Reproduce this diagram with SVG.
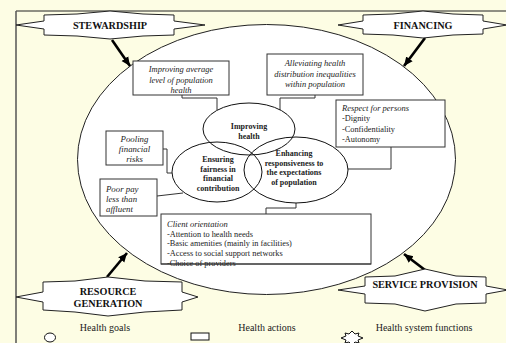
<svg xmlns="http://www.w3.org/2000/svg" width="506" height="343" viewBox="0 0 506 343">
<style>
.func{fill:#fff;stroke:#222;stroke-width:1}
.fl{font-family:"Liberation Serif",serif;font-weight:bold;font-size:10.2px;fill:#111;text-anchor:middle}
.box{fill:#fff;stroke:#333;stroke-width:1}
.it{font-family:"Liberation Serif",serif;font-style:italic;font-size:8.5px;fill:#222}
.tx{font-family:"Liberation Serif",serif;font-size:8.3px;fill:#222}
.goal{fill:none;stroke:#111;stroke-width:1}
.gl{font-family:"Liberation Serif",serif;font-weight:bold;font-size:8px;fill:#222;text-anchor:middle}
.con{fill:none;stroke:#333;stroke-width:1}
.arr{stroke:#000;stroke-width:2.6;marker-end:url(#ah)}
.lg{font-family:"Liberation Serif",serif;font-size:10px;fill:#222;text-anchor:middle}
.c{text-anchor:middle}
</style>
<defs>
<marker id="ah" markerUnits="userSpaceOnUse" markerWidth="10" markerHeight="10" viewBox="0 0 10 10" refX="9" refY="5" orient="auto">
<path d="M0,1 L9,5 L0,9 Z" fill="#000"/>
</marker>
</defs>
<rect x="0" y="0" width="506" height="343" fill="#FDFDE4"/>
<line x1="16" y1="11" x2="506" y2="11" stroke="#222" stroke-width="1"/>
<line x1="16" y1="11" x2="16" y2="343" stroke="#555" stroke-width="1.5"/>

<g id="system">
<ellipse cx="266.5" cy="159.5" rx="189" ry="135" fill="#fff" stroke="#222" stroke-width="1"/>
</g>

<g id="connectors">
<line class="arr" x1="112" y1="40" x2="130" y2="66"/>
<line class="arr" x1="425" y1="38" x2="404" y2="66"/>
<line class="arr" x1="107" y1="277" x2="127" y2="253"/>
<line class="arr" x1="425" y1="270" x2="404" y2="254"/>
<polyline class="con" points="182,95 182,98 217,98 217,110"/>
<polyline class="con" points="315,95 315,98 280,98 280,110"/>
<polyline class="con" points="391,147 391,169 348,169"/>
<polyline class="con" points="163,149 167,149 167,173 172,173"/>
<polyline class="con" points="157,196 183,193"/>
<polyline class="con" points="296,203 296,208 266,208 266,214"/>
</g>

<g id="stewardship">
<polygon class="func" points="16,25 44,21 44,15 77,14 110,11 143,14 174,15 174,21 205,25 174,29 174,35 143,36 110,39 77,36 44,35 44,29"/>
<text class="fl" x="110" y="29">STEWARDSHIP</text>
</g>
<g id="financing">
<polygon class="func" points="338,25 363,21 363,15 393,14 423,11 453,14 483,15 483,21 507,25 483,29 483,34 453,35 423,38 393,35 363,34 363,29"/>
<text class="fl" x="423" y="29">FINANCING</text>
</g>
<g id="resource-generation">
<polygon class="func" points="16,297 43,292 43,282 75,281 108,277 145,281 182,282 182,292 198,297 182,302 182,310 145,312 108,316 75,312 43,310 43,302"/>
<text class="fl" x="108" y="295">RESOURCE</text>
<text class="fl" x="108" y="307">GENERATION</text>
</g>
<g id="service-provision">
<polygon class="func" points="338,290 365,286 365,277 395,276 425,269 456,276 486,277 486,286 508,290 486,294 486,303 456,304 425,311 395,304 365,303 365,294"/>
<text class="fl" x="425" y="288">SERVICE PROVISION</text>
</g>

<g id="improving-health">
<ellipse class="goal" cx="249" cy="129" rx="46" ry="26"/>
<text class="gl" x="249" y="129">Improving</text>
<text class="gl" x="249" y="139">health</text>
</g>
<g id="ensuring-fairness">
<ellipse class="goal" cx="217" cy="172" rx="45" ry="30"/>
<text class="gl" x="218" y="162">Ensuring</text>
<text class="gl" x="218" y="171.5">fairness in</text>
<text class="gl" x="218" y="181">financial</text>
<text class="gl" x="218" y="190.5">contribution</text>
</g>
<g id="enhancing-responsiveness">
<ellipse class="goal" cx="296" cy="170" rx="52" ry="33"/>
<text class="gl" x="294" y="156">Enhancing</text>
<text class="gl" x="294" y="165.5">responsiveness to</text>
<text class="gl" x="294" y="175">the expectations</text>
<text class="gl" x="294" y="184.5">of population</text>
</g>

<g id="improving-average">
<rect class="box" x="133" y="61" width="96" height="34"/>
<text class="it c" x="181" y="72">Improving average</text>
<text class="it c" x="181" y="82.5">level of population</text>
<text class="it c" x="181" y="93">health</text>
</g>
<g id="alleviating">
<rect class="box" x="267" y="54" width="96" height="41"/>
<text class="it c" x="315" y="66">Alleviating health</text>
<text class="it c" x="315" y="76.5">distribution inequalities</text>
<text class="it c" x="315" y="87">within population</text>
</g>
<g id="respect">
<rect class="box" x="336" y="100" width="109" height="47"/>
<text class="it" x="342" y="110.5">Respect for persons</text>
<text class="tx" x="342" y="121">-Dignity</text>
<text class="tx" x="342" y="131.5">-Confidentiality</text>
<text class="tx" x="342" y="142">-Autonomy</text>
</g>
<g id="pooling">
<rect class="box" x="106" y="131" width="57" height="34"/>
<text class="it c" x="134.5" y="142" style="font-size:8.8px">Pooling</text>
<text class="it c" x="134.5" y="152" style="font-size:8.8px">financial</text>
<text class="it c" x="134.5" y="162" style="font-size:8.8px">risks</text>
</g>
<g id="poor-pay">
<rect class="box" x="100" y="179" width="57" height="37"/>
<text class="it" x="106" y="192" style="font-size:8.8px">Poor pay</text>
<text class="it" x="106" y="202" style="font-size:8.8px">less than</text>
<text class="it" x="106" y="212" style="font-size:8.8px">affluent</text>
</g>
<g id="client-orientation">
<rect class="box" x="161" y="214" width="210" height="50"/>
<text class="it" x="167" y="227">Client orientation</text>
<text class="tx" x="167" y="236.5">-Attention to health needs</text>
<text class="tx" x="167" y="246">-Basic amenities (mainly in facilities)</text>
<text class="tx" x="167" y="255.5">-Access to social support networks</text>
<text class="tx" x="167" y="266">-Choice of providers</text>
<line x1="161" y1="264" x2="371" y2="264" stroke="#333" stroke-width="1"/>
</g>

<g id="legend">
<ellipse cx="50" cy="337.5" rx="5.5" ry="4.5" fill="#fff" stroke="#111" stroke-width="1"/>
<text class="lg" x="105" y="331">Health goals</text>
<rect x="191" y="333" width="18" height="7" fill="#fff" stroke="#111" stroke-width="1"/>
<text class="lg" x="267" y="331">Health actions</text>
<polygon points="341,338 346,336 345,333 349,334 352,331 355,334 359,333 358,336 363,338 358,340 359,343 355,342 352,345 349,342 345,343 346,340" fill="#fff" stroke="#111" stroke-width="1"/>
<text class="lg" x="424" y="331">Health system functions</text>
</g>
</svg>
